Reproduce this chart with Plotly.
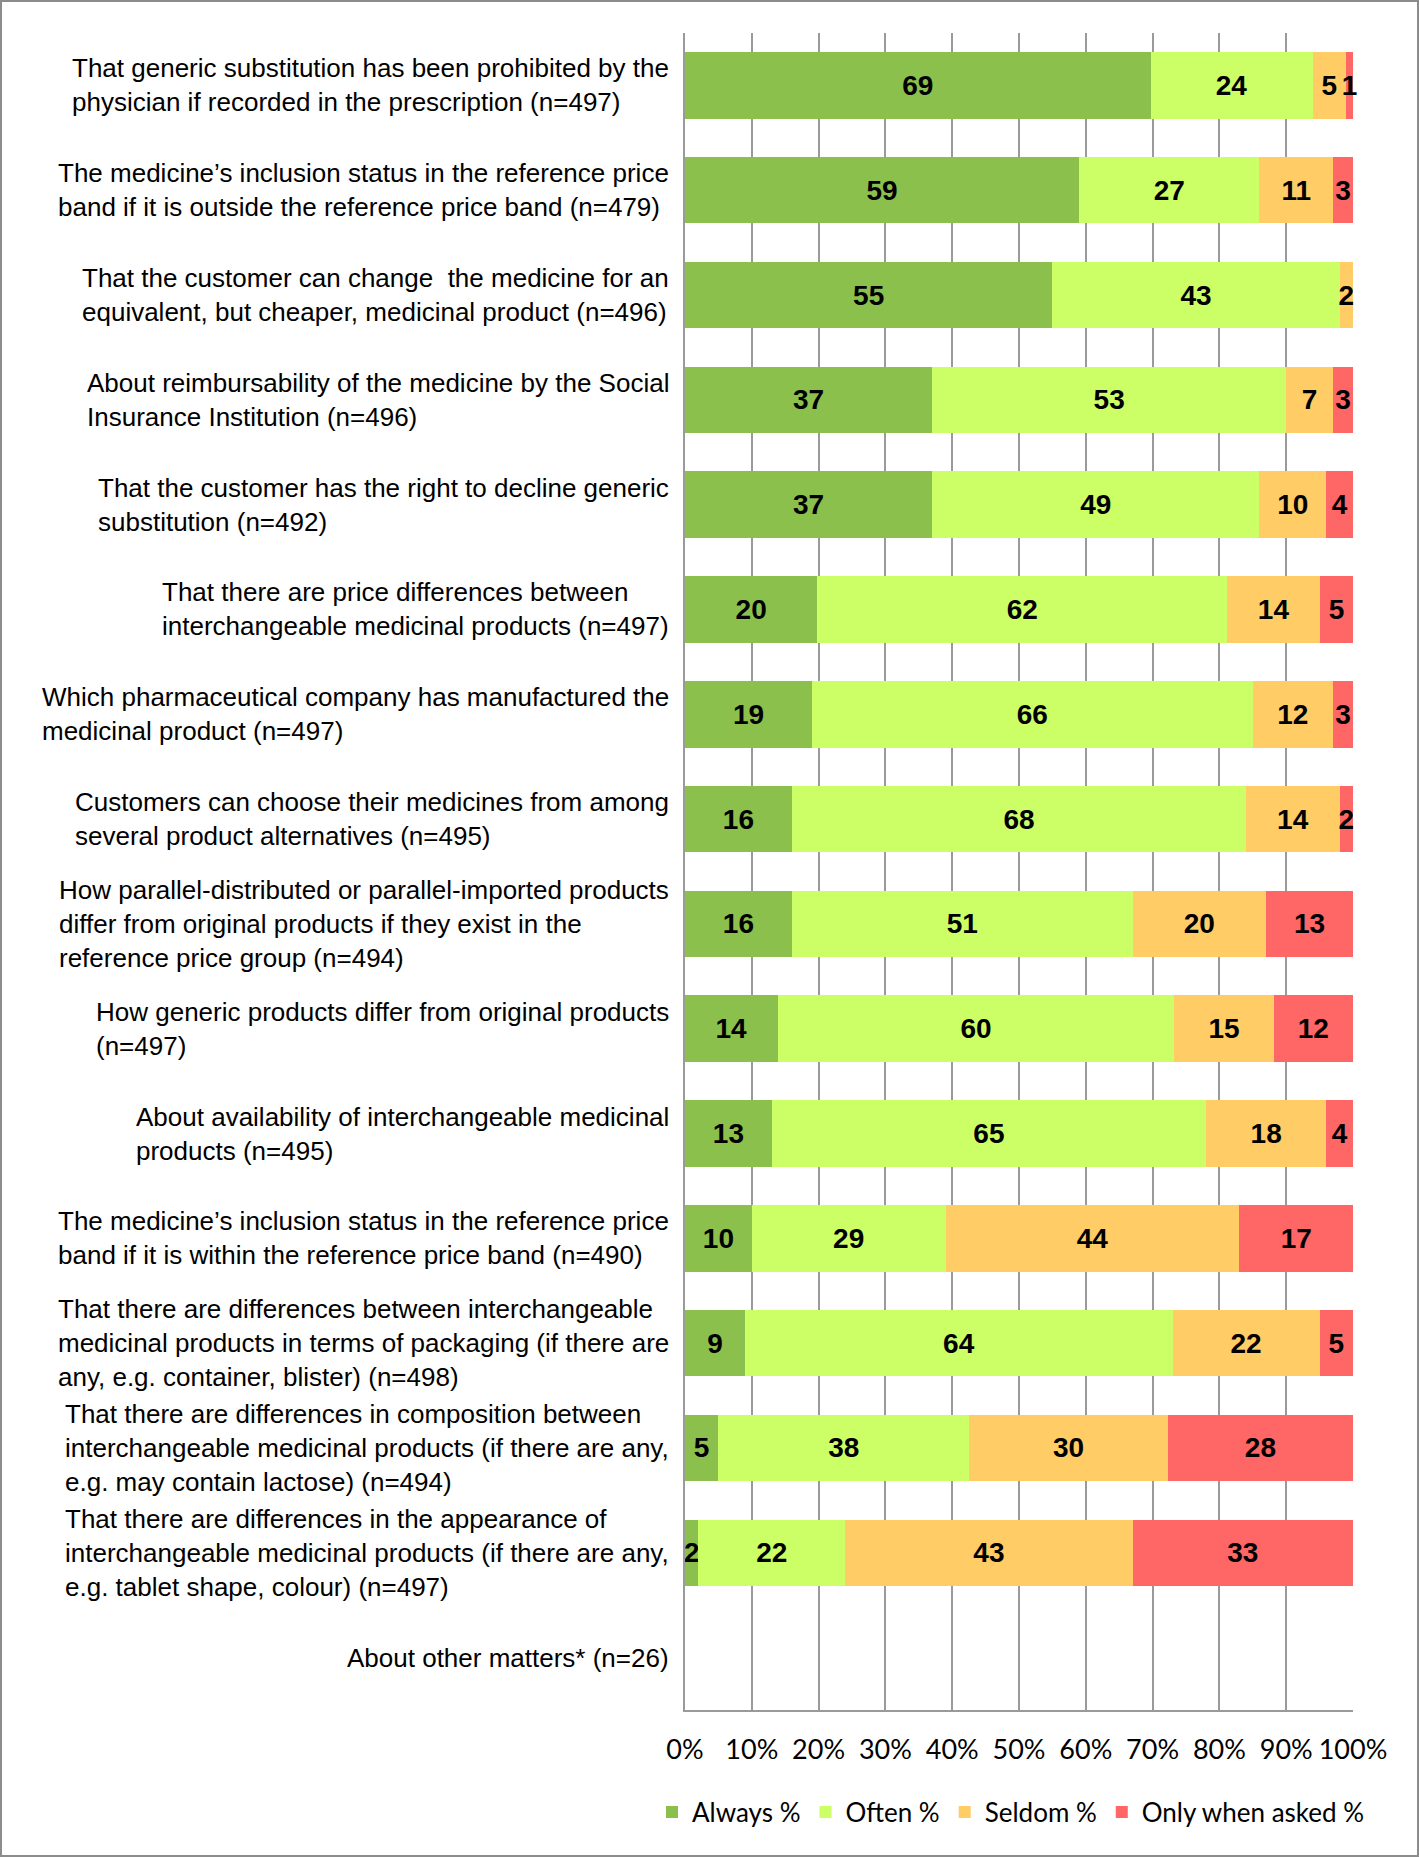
import plotly.graph_objects as go

categories = [
    "That generic substitution has been prohibited by the<br>physician if recorded in the prescription (n=497)",
    "The medicine’s inclusion status in the reference price<br>band if it is outside the reference price band (n=479)",
    "That the customer can change  the medicine for an<br>equivalent, but cheaper, medicinal product (n=496)",
    "About reimbursability of the medicine by the Social<br>Insurance Institution (n=496)",
    "That the customer has the right to decline generic<br>substitution (n=492)",
    "That there are price differences between<br>interchangeable medicinal products (n=497)",
    "Which pharmaceutical company has manufactured the<br>medicinal product (n=497)",
    "Customers can choose their medicines from among<br>several product alternatives (n=495)",
    "How parallel-distributed or parallel-imported products<br>differ from original products if they exist in the<br>reference price group (n=494)",
    "How generic products differ from original products<br>(n=497)",
    "About availability of interchangeable medicinal<br>products (n=495)",
    "The medicine’s inclusion status in the reference price<br>band if it is within the reference price band (n=490)",
    "That there are differences between interchangeable<br>medicinal products in terms of packaging (if there are<br>any, e.g. container, blister) (n=498)",
    "That there are differences in composition between<br>interchangeable medicinal products (if there are any,<br>e.g. may contain lactose) (n=494)",
    "That there are differences in the appearance of<br>interchangeable medicinal products (if there are any,<br>e.g. tablet shape, colour) (n=497)",
    "About other matters* (n=26)",
]

always = [69, 59, 55, 37, 37, 20, 19, 16, 16, 14, 13, 10, 9, 5, 2, None]
often = [24, 27, 43, 53, 49, 62, 66, 68, 51, 60, 65, 29, 64, 38, 22, None]
seldom = [5, 11, 2, 7, 10, 14, 12, 14, 20, 15, 18, 44, 22, 30, 43, None]
only_asked = [1, 3, 0, 3, 4, 5, 3, 2, 13, 12, 4, 17, 5, 28, 33, None]

series_names = ["Always %", "Often %", "Seldom %", "Only when asked %"]
series_values = [always, often, seldom, only_asked]
series_colors = ["#8BC04C", "#CCFF66", "#FFCC66", "#FF6666"]

tick_vals = [0, 10, 20, 30, 40, 50, 60, 70, 80, 90, 100]
tick_text = ["0%", "10%", "20%", "30%", "40%", "50%", "60%", "70%", "80%", "90%", "100%"]

W, H = 1419, 1857
ML, MR, MT, MB = 685, 66, 33, 147
PW, PH = W - ML - MR, H - MT - MB

fig = go.Figure()
for name, vals, col in zip(series_names, series_values, series_colors):
    fig.add_trace(go.Bar(
        y=categories,
        x=[v if v else 0 for v in vals],
        name=name,
        orientation="h",
        marker=dict(color=col, line=dict(width=0)),
        text=[str(v) if v else "" for v in vals],
        textposition="inside",
        insidetextanchor="middle",
        textangle=0,
        constraintext="none",
        textfont=dict(family="Liberation Sans, Arial, sans-serif", size=28,
                      color="black", weight="bold"),
        cliponaxis=False,
    ))

annotations = []
for c in categories:
    annotations.append(dict(
        x=-14 / PW, xref="paper", y=c, yref="y",
        text=c, showarrow=False, xanchor="right", yanchor="middle",
        align="left",
        font=dict(family="Liberation Sans, Arial, sans-serif", size=26, color="black"),
    ))

fig.update_layout(
    width=W, height=H,
    margin=dict(l=ML, r=MR, t=MT, b=MB, pad=0),
    barmode="stack",
    barnorm="percent",
    bargap=0.366,
    plot_bgcolor="white",
    paper_bgcolor="white",
    showlegend=True,
    legend=dict(
        orientation="h", x=(652 - ML) / PW, xanchor="left",
        y=-(1812 - (MT + PH)) / PH, yanchor="middle",
        font=dict(family="Lato, Liberation Sans, sans-serif", size=26, color="black"),
        traceorder="normal", itemwidth=30,
    ),
    xaxis=dict(
        range=[0, 100], tickvals=tick_vals, ticktext=tick_text,
        showgrid=True, gridcolor="#9A9A9A", gridwidth=1.5,
        zeroline=False, showline=True, linecolor="#9A9A9A", linewidth=1.5,
        ticks="", ticklabelstandoff=15,
        tickfont=dict(family="Lato, Liberation Sans, sans-serif", size=27, color="black"),
        fixedrange=True,
    ),
    yaxis=dict(
        autorange="reversed", showticklabels=False, showgrid=False,
        showline=True, linecolor="#9A9A9A", linewidth=1.5, ticks="",
        fixedrange=True,
    ),
    annotations=annotations,
    shapes=[dict(
        type="rect", xref="paper", yref="paper",
        x0=-(ML - 1) / PW, x1=(W - ML - 1) / PW,
        y0=-(MB - 1) / PH, y1=(PH + MT - 1) / PH,
        line=dict(color="#8C8C8C", width=2), fillcolor="rgba(0,0,0,0)",
        layer="above",
    )],
)

fig.write_html("out.html", post_script="document.body.style.margin='0';",
               config={"displayModeBar": False})
